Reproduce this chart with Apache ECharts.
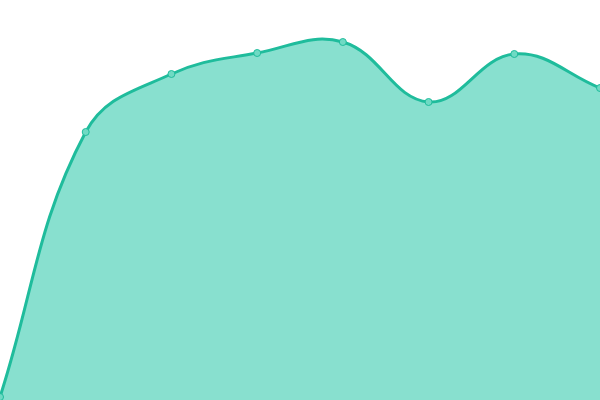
<!DOCTYPE html>
<html lang="en">
<head>
    <meta charset="utf-8">
    <title>Area</title>
    <script src="https://cdn.jsdelivr.net/npm/echarts@6/dist/echarts.min.js"></script>
    <style>
        html, body { margin: 0; padding: 0; background: #fff; }
        #main { width: 600px; height: 400px; }
    </style>
</head>
<body>
<div id="main"></div>
<script type="text/javascript">
var categories = ['1', '2', '3', '4', '5', '6', '7', '8'];
var values = [3, 268, 326, 347, 358, 298, 346, 312];

var lineColor = '#1fbc9c';
var fillColor = '#88e0cf';
var tension = 0.4;

// cardinal-style control points (tension spline, can overshoot)
function controlPoints(pts) {
    var res = [];
    for (var i = 0; i < pts.length; i++) {
        var cur = pts[i];
        var prev = pts[i - 1] || cur;
        var next = pts[i + 1] || cur;
        var d01 = Math.sqrt(Math.pow(cur[0] - prev[0], 2) + Math.pow(cur[1] - prev[1], 2));
        var d12 = Math.sqrt(Math.pow(next[0] - cur[0], 2) + Math.pow(next[1] - cur[1], 2));
        var s01 = d01 / (d01 + d12) || 0;
        var s12 = d12 / (d01 + d12) || 0;
        var fa = tension * s01, fb = tension * s12;
        res.push({
            c1: [cur[0] - fa * (next[0] - prev[0]), cur[1] - fa * (next[1] - prev[1])],
            c2: [cur[0] + fb * (next[0] - prev[0]), cur[1] + fb * (next[1] - prev[1])]
        });
    }
    return res;
}

function renderCurve(params, api) {
    if (params.dataIndex !== 0) return;
    var pts = values.map(function (v, i) { return api.coord([i, v]); });
    var cps = controlPoints(pts);
    var d = 'M' + pts[0][0] + ' ' + pts[0][1];
    for (var i = 1; i < pts.length; i++) {
        d += ' C' + cps[i - 1].c2[0] + ' ' + cps[i - 1].c2[1] + ' ' +
            cps[i].c1[0] + ' ' + cps[i].c1[1] + ' ' + pts[i][0] + ' ' + pts[i][1];
    }
    var base0 = api.coord([0, 0]);
    var base1 = api.coord([pts.length - 1, 0]);
    var area = d + ' L' + base1[0] + ' ' + base1[1] + ' L' + base0[0] + ' ' + base0[1] + ' Z';
    return {
        type: 'group',
        children: [{
            type: 'path',
            shape: { pathData: area },
            style: { fill: fillColor }
        }, {
            type: 'path',
            shape: { pathData: d },
            style: { fill: null, stroke: lineColor, lineWidth: 3 }
        }]
    };
}

var myChart = echarts.init(document.getElementById('main'));
var option = {
    animation: false,
    grid: { left: 0, right: 0, top: 0, bottom: 0 },
    xAxis: {
        type: 'category',
        boundaryGap: false,
        data: categories,
        show: false
    },
    yAxis: {
        type: 'value',
        min: 0,
        max: 400,
        show: false
    },
    series: [{
        type: 'custom',
        renderItem: renderCurve,
        data: values.map(function (v, i) { return [i, v]; }),
        z: 1
    }, {
        type: 'line',
        data: values,
        symbol: 'circle',
        symbolSize: 7,
        itemStyle: { color: '#6fdac4', borderColor: lineColor, borderWidth: 1 },
        lineStyle: { opacity: 0 },
        z: 2
    }]
};
myChart.setOption(option);
</script>
</body>
</html>
